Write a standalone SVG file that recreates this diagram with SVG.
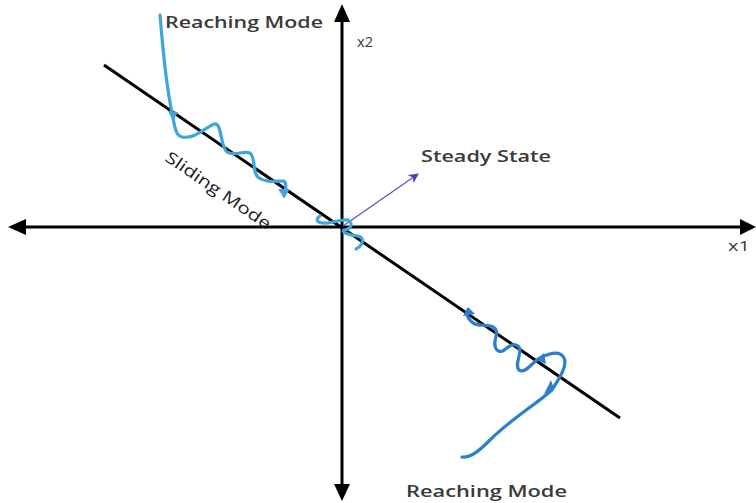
<svg xmlns="http://www.w3.org/2000/svg" width="756" height="503" viewBox="0 0 756 503">
<style>
.lbl{font-family:"Open Sans","Liberation Sans",sans-serif;font-size:16px;fill:#3a3a3a;font-weight:600}
.ax{stroke:#000;stroke-width:3;fill:none}
.c1{stroke:#3ea6dc;stroke-width:3.2;fill:none;stroke-linejoin:round;stroke-linecap:round}
.c2{stroke:#2b7fcc;stroke-width:3.2;fill:none;stroke-linejoin:round;stroke-linecap:round}
</style>
<defs>
<marker id="ah" markerWidth="10" markerHeight="10" refX="9" refY="5" orient="auto" markerUnits="userSpaceOnUse"><path d="M0,0 L10,5 L0,10 L3,5 Z" fill="#4a3fb8"/></marker>
</defs>
<rect width="756" height="503" fill="#fff"/>
<g id="axes">
<line class="ax" x1="24" y1="227" x2="742" y2="227"/>
<polygon points="8,227 26,219 26,235" fill="#000"/>
<polygon points="756,227 740,219 740,235" fill="#000"/>
<line class="ax" x1="342" y1="20" x2="342" y2="486"/>
<polygon points="342,4 334,22 350,22" fill="#000"/>
<polygon points="342,501 334,484 350,484" fill="#000"/>
<line x1="104" y1="65" x2="620" y2="418" stroke="#000" stroke-width="3"/>
</g>
<g id="connectors">
<line x1="343" y1="226" x2="418" y2="174" stroke="#5b56c8" stroke-width="1.3" marker-end="url(#ah)"/>
<path class="c1" d="M160,15 C163,50 166,85 173,118 C175,128 176,136 182,137 C195,139 205,128 214,124 C222,121 220,147 227,152 C235,157 243,150 250,153 C256,158 252,174 259,178 C267,183 275,181 284,181 C287,184 286,190 284,196"/>
<path d="M168,111 L173,121 L178,112 Z" fill="#3ea6dc"/>
<path d="M278,189 L284,198 L290,189 Z" fill="#3ea6dc"/>
<path class="c1" d="M320,216 C314,220 318,224 328,223 C336,222 342,219 348,220 C353,223 352,229 344,230 C340,232 352,236 358,236 C366,238 362,246 356,249"/>
<path class="c2" d="M462,457 C470,458 478,452 490,440 C510,420 535,405 552,390 C558,380 568,366 564,358 C560,350 548,354 540,358 C532,362 526,374 519,370 C513,364 526,348 516,345 C508,342 504,356 497,350 C490,342 502,332 493,327 C486,323 478,328 472,322 C467,318 466,314 468,310"/>
<path d="M544,394 L554,389 L551,380 Z" fill="#2b7fcc"/>
<path d="M544,353 L536,360 L546,364 Z" fill="#2b7fcc"/>
<path d="M463,316 L468,307 L475,314 Z" fill="#2b7fcc"/>
</g>
<g id="labels">
<text class="lbl" x="165" y="28" textLength="158" lengthAdjust="spacingAndGlyphs">Reaching Mode</text>
<text class="lbl" x="406" y="497" textLength="161" lengthAdjust="spacingAndGlyphs">Reaching Mode</text>
<text class="lbl" x="421" y="162" textLength="130" lengthAdjust="spacingAndGlyphs">Steady State</text>
<text class="lbl" transform="translate(164,160) rotate(34.4)" style="font-weight:400;fill:#222" textLength="124" lengthAdjust="spacingAndGlyphs">Sliding Mode</text>
<text class="lbl" x="357" y="47" style="font-weight:400;font-size:15px" textLength="16" lengthAdjust="spacingAndGlyphs">x2</text>
<text class="lbl" x="728" y="251" style="font-weight:400;font-size:15px" textLength="22" lengthAdjust="spacingAndGlyphs">x1</text>
</g>
</svg>
